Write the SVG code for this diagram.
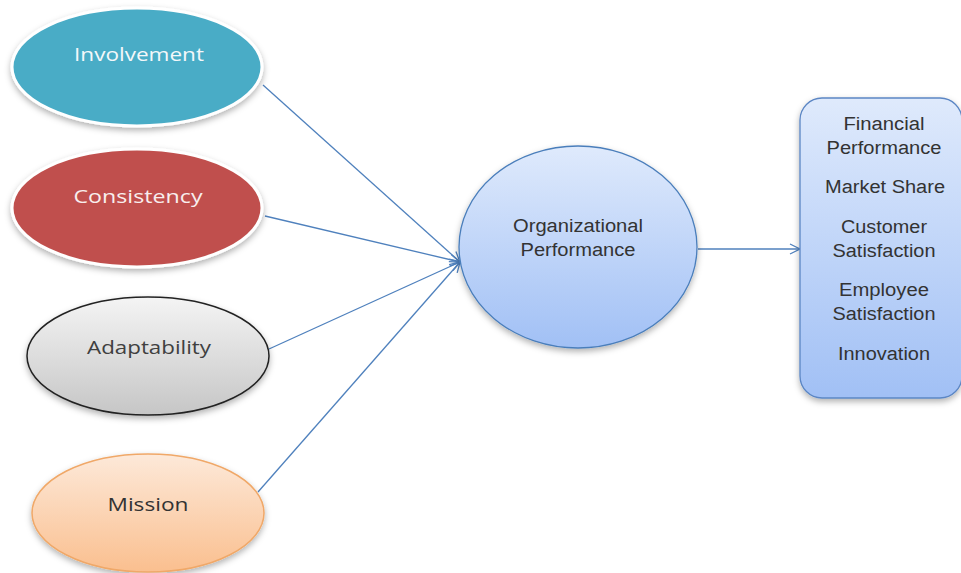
<svg xmlns="http://www.w3.org/2000/svg" width="961" height="573" viewBox="0 0 961 573">
<defs>
<style>
.lbl{font-family:"Open Sans","DejaVu Sans",sans-serif;font-size:18px;text-anchor:middle}
.txt{font-family:"Liberation Sans",Arial,sans-serif;font-size:18px;fill:#333;text-anchor:middle}
.con{stroke:#4f81bd;stroke-width:1.3;fill:none}
</style>
<filter id="sh" x="-20%" y="-20%" width="140%" height="150%">
<feDropShadow dx="0" dy="3" stdDeviation="3" flood-color="#000" flood-opacity="0.3"/>
</filter>
<linearGradient id="gGray" x1="0" y1="0" x2="0" y2="1">
<stop offset="0" stop-color="#f4f4f4"/><stop offset="1" stop-color="#c6c6c6"/>
</linearGradient>
<linearGradient id="gPeach" x1="0" y1="0" x2="0" y2="1">
<stop offset="0" stop-color="#fde9d9"/><stop offset="1" stop-color="#fabf8f"/>
</linearGradient>
<linearGradient id="gBlue" x1="0" y1="0" x2="0" y2="1">
<stop offset="0" stop-color="#dfeafc"/><stop offset="1" stop-color="#a1c0f5"/>
</linearGradient>
<marker id="arr" viewBox="0 0 12 12" refX="11" refY="6" markerWidth="12" markerHeight="12" markerUnits="userSpaceOnUse" orient="auto">
<path d="M1,1 L11,6 L1,11" fill="none" stroke="#4f81bd" stroke-width="1.3"/>
</marker>
</defs>
<rect width="961" height="573" fill="#fff"/>
<g id="connectors">
<line class="con" x1="263" y1="85" x2="460" y2="262" marker-end="url(#arr)"/>
<line class="con" x1="265" y1="216" x2="460" y2="262" marker-end="url(#arr)"/>
<line class="con" x1="269" y1="349" x2="460" y2="262" marker-end="url(#arr)"/>
<line class="con" x1="258" y1="492" x2="460" y2="262" marker-end="url(#arr)"/>
<line class="con" x1="698" y1="249" x2="800" y2="249" marker-end="url(#arr)"/>
</g>
<g id="involvement">
<ellipse cx="137" cy="67" rx="125" ry="59" fill="#4aacc6" stroke="#fff" stroke-width="3" filter="url(#sh)"/>
<text class="lbl" x="139" y="61" fill="#f4f8fa" textLength="130" lengthAdjust="spacingAndGlyphs">Involvement</text>
</g>
<g id="consistency">
<ellipse cx="137" cy="208" rx="125" ry="59" fill="#c0504d" stroke="#fff" stroke-width="3" filter="url(#sh)"/>
<text class="lbl" x="138" y="203" fill="#f8eeee" textLength="129" lengthAdjust="spacingAndGlyphs">Consistency</text>
</g>
<g id="adaptability">
<ellipse cx="148" cy="356" rx="121" ry="59" fill="url(#gGray)" stroke="#222" stroke-width="1.5" filter="url(#sh)"/>
<text class="lbl" x="149" y="354" fill="#404040" textLength="124" lengthAdjust="spacingAndGlyphs">Adaptability</text>
</g>
<g id="mission">
<ellipse cx="148" cy="513" rx="116" ry="59" fill="url(#gPeach)" stroke="#f0a868" stroke-width="1.5" filter="url(#sh)"/>
<text class="lbl" x="148" y="511" fill="#333" textLength="81" lengthAdjust="spacingAndGlyphs">Mission</text>
</g>
<g id="orgperf">
<ellipse cx="578" cy="247" rx="119" ry="101" fill="url(#gBlue)" stroke="#4a7ebb" stroke-width="1.3" filter="url(#sh)"/>
<text class="txt" x="578" y="232" textLength="130" lengthAdjust="spacingAndGlyphs">Organizational</text>
<text class="txt" x="578" y="256" textLength="115" lengthAdjust="spacingAndGlyphs">Performance</text>
</g>
<g id="outcomes">
<rect x="800" y="98" width="162" height="300" rx="22" fill="url(#gBlue)" stroke="#5b86c4" stroke-width="1.3" filter="url(#sh)"/>
<text class="txt" x="884" y="130" textLength="81" lengthAdjust="spacingAndGlyphs">Financial</text>
<text class="txt" x="884" y="154" textLength="115" lengthAdjust="spacingAndGlyphs">Performance</text>
<text class="txt" x="885" y="193" textLength="120" lengthAdjust="spacingAndGlyphs">Market Share</text>
<text class="txt" x="884" y="233" textLength="86" lengthAdjust="spacingAndGlyphs">Customer</text>
<text class="txt" x="884" y="257" textLength="103" lengthAdjust="spacingAndGlyphs">Satisfaction</text>
<text class="txt" x="884" y="296" textLength="90" lengthAdjust="spacingAndGlyphs">Employee</text>
<text class="txt" x="884" y="320" textLength="103" lengthAdjust="spacingAndGlyphs">Satisfaction</text>
<text class="txt" x="884" y="360" textLength="92" lengthAdjust="spacingAndGlyphs">Innovation</text>
</g>
</svg>
